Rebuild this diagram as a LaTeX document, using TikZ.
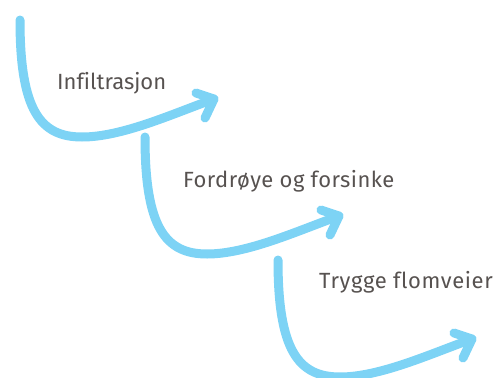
\documentclass[tikz,border=0pt]{standalone}
\usepackage{fontspec}
\setmainfont[Ligatures=NoCommon]{Fira Sans}
\definecolor{flow}{HTML}{7DD3F5}
\definecolor{txt}{HTML}{575250}
\begin{document}
\begin{tikzpicture}[x=1pt,y=-1pt,
  flowline/.style={draw=flow,line width=9pt,line cap=round,line join=round},
  lbl/.style={text=txt,font=\fontsize{22}{25}\selectfont,inner sep=0pt,anchor=base west}]
\useasboundingbox (0,0) rectangle (496,378);
\foreach \dx/\dy/\n in {0/0/a,125/117/b,258/240/c}{
  \begin{scope}[shift={(\dx,\dy)}]
    \coordinate (s\n) at (20,20);
    \coordinate (m\n) at (82,137);
    \coordinate (t\n) at (214,99);
    \coordinate (u\n) at (196,93);
    \coordinate (l\n) at (205,118);
    \path[flowline] (s\n) .. controls (20,110) and (40,137) .. (m\n)
      .. controls (122,137) and (172,114) .. (t\n);
    \path[flowline] (u\n) -- (t\n) -- (l\n);
  \end{scope}
}
\node[lbl] (n1) at (57,89) {Infiltrasjon};
\node[lbl] (n2) at (183,187) {\addfontfeature{LetterSpace=2}Fordrøye og forsinke};
\node[lbl] (n3) at (319,288) {\addfontfeature{LetterSpace=2.8}Trygge flomveier};
\end{tikzpicture}
\end{document}
